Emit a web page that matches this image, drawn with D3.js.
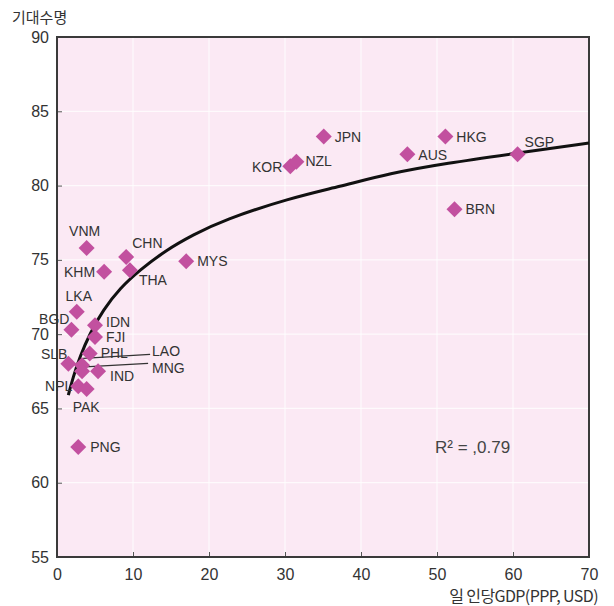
<!DOCTYPE html>
<html><head><meta charset="utf-8">
<script src="https://cdn.jsdelivr.net/npm/d3@7"></script>
<style>body{margin:0;background:#fff}svg{display:block}</style>
</head><body>
<svg id="c" width="614" height="606"></svg>
<script>
const countries = ["JPN","HKG","AUS","SGP","KOR","NZL","BRN","VNM","CHN","KHM","THA","MYS","LKA","BGD","IDN","FJI","PHL","SLB","LAO","MNG","IND","NPL","PAK","PNG"];
const gdp = [35.1,51.1,46.1,60.6,30.7,31.5,52.3,3.9,9.1,6.2,9.6,17.0,2.6,1.9,5.0,5.0,4.3,1.5,3.3,3.3,5.4,2.8,3.9,2.8];
const lifeExp = [83.3,83.3,82.1,82.1,81.3,81.6,78.4,75.8,75.2,74.2,74.3,74.9,71.5,70.3,70.6,69.8,68.7,68.0,67.9,67.5,67.5,66.5,66.3,62.4];
const trendX = [1.49,2.14,3.02,4.34,6.08,8.28,10.9,14.4,17.9,21.9,30.6,37.2,43.8,51.2,60.4,70];
const trendY = [65.9,67.14,68.49,70.06,71.63,73.09,74.32,75.67,76.68,77.68,79.15,79.93,80.83,81.5,82.17,82.87];
const xTicks = [0,10,20,30,40,50,60,70];
const yTicks = [55,60,65,70,75,80,85,90];
const yTitle = "기대수명";
const xTitle = "일 인당GDP(PPP, USD)";
const r2Text = "R² = ,0.79";

// label placement (styling): [dx, dy, anchor]
const labelPos = {
  JPN:[11,5,"start"], HKG:[11,5,"start"], AUS:[11,6,"start"], SGP:[7,-7,"start"],
  KOR:[-8,6,"end"], NZL:[9,4,"start"], BRN:[11,5,"start"], VNM:[-2,-12,"middle"],
  CHN:[6,-9,"start"], KHM:[-9,5,"end"], THA:[9,15,"start"], MYS:[11,5,"start"],
  LKA:[2,-11,"middle"], BGD:[-2,-6,"end"], IDN:[11,2,"start"], FJI:[11,5,"start"],
  PHL:[11,5,"start"], SLB:[-1,-5,"end"], LAO:[70,-9,"start"], MNG:[70,2,"start"],
  IND:[12,10,"start"], NPL:[-6,5,"end"], PAK:[-14,23,"start"], PNG:[12,5,"start"]
};
const leaders = {LAO:[[1,-7],[68,-11]], MNG:[[3,-4.5],[66,-8]]};

const svg = d3.select("#c");
const m = {l:57, r:25, t:37, b:49};
const W = 614, H = 606;
const x = d3.scaleLinear().domain([0,70]).range([m.l, W-m.r]);
const y = d3.scaleLinear().domain([55,90]).range([H-m.b, m.t]);

svg.append("rect").attr("x",m.l).attr("y",m.t).attr("width",x(70)-m.l).attr("height",y(55)-m.t).attr("fill","#fbe9f4");

// grid
svg.append("g").selectAll("line").data(xTicks.slice(1,-1)).join("line")
  .attr("x1",d=>x(d)).attr("x2",d=>x(d)).attr("y1",m.t).attr("y2",y(55))
  .attr("stroke","#fff").attr("stroke-width",1.2).attr("opacity",0.8);
svg.append("g").selectAll("line").data(yTicks.slice(1,-1)).join("line")
  .attr("y1",d=>y(d)).attr("y2",d=>y(d)).attr("x1",m.l).attr("x2",x(70))
  .attr("stroke","#fff").attr("stroke-width",1.2).attr("opacity",0.8);

// axes
const xa = svg.append("g").attr("transform",`translate(0,${y(55)})`)
  .call(d3.axisBottom(x).tickValues(xTicks).tickSizeInner(-5).tickSizeOuter(0).tickPadding(12));
const ya = svg.append("g").attr("transform",`translate(${m.l},0)`)
  .call(d3.axisLeft(y).tickValues(yTicks).tickSizeInner(-5).tickSizeOuter(0).tickPadding(8));
[xa,ya].forEach(g=>{
  g.select(".domain").remove();
  g.selectAll("line").attr("stroke","#555");
  g.selectAll("text").attr("font-family","Liberation Sans, Arial, sans-serif").attr("font-size",16).attr("fill","#333");
});
xa.selectAll("line").filter(d=>d===0||d===70).remove();
ya.selectAll("line").filter(d=>d===55||d===90).remove();

// frame
svg.append("rect").attr("x",m.l).attr("y",m.t).attr("width",x(70)-m.l).attr("height",y(55)-m.t)
  .attr("fill","none").attr("stroke","#3a3a3a").attr("stroke-width",2);

// trend
const trend = trendX.map((v,i)=>[v,trendY[i]]);
svg.append("path").datum(trend)
  .attr("d",d3.line().x(d=>x(d[0])).y(d=>y(d[1])).curve(d3.curveBasis))
  .attr("fill","none").attr("stroke","#111").attr("stroke-width",3);

// leaders
const data = countries.map((c,i)=>({c, gx:gdp[i], ly:lifeExp[i]}));
data.filter(d=>leaders[d.c]).forEach(d=>{
  const L = leaders[d.c];
  svg.append("line").attr("x1",x(d.gx)+L[0][0]).attr("y1",y(d.ly)+L[0][1])
    .attr("x2",x(d.gx)+L[1][0]).attr("y2",y(d.ly)+L[1][1])
    .attr("stroke","#333").attr("stroke-width",1.3);
});

// diamonds
const diamond = "M0,-8L8,0L0,8L-8,0Z";
svg.append("g").selectAll("path").data(data).join("path")
  .attr("d",diamond).attr("transform",d=>`translate(${x(d.gx)},${y(d.ly)})`)
  .attr("fill","#c2509f");

// labels
svg.append("g").selectAll("text").data(data).join("text")
  .attr("x",d=>x(d.gx)+labelPos[d.c][0]).attr("y",d=>y(d.ly)+labelPos[d.c][1])
  .attr("text-anchor",d=>labelPos[d.c][2])
  .attr("font-family","Liberation Sans, Arial, sans-serif").attr("font-size",14)
  .attr("fill","#333").text(d=>d.c);

// R2
svg.append("text").attr("x",435).attr("y",y(62.4)+6)
  .attr("font-family","Liberation Sans, Arial, sans-serif").attr("font-size",17)
  .attr("fill","#444").text(r2Text);

// titles
svg.append("text").attr("x",12).attr("y",23).attr("font-family","Noto Sans CJK KR, sans-serif")
  .attr("font-size",15).attr("fill","#333").text(yTitle);
svg.append("text").attr("x",598).attr("y",602).attr("text-anchor","end")
  .attr("font-family","Noto Sans CJK KR, sans-serif").attr("font-size",16).attr("letter-spacing",-0.6)
  .attr("fill","#333").text(xTitle);
</script>
</body></html>
